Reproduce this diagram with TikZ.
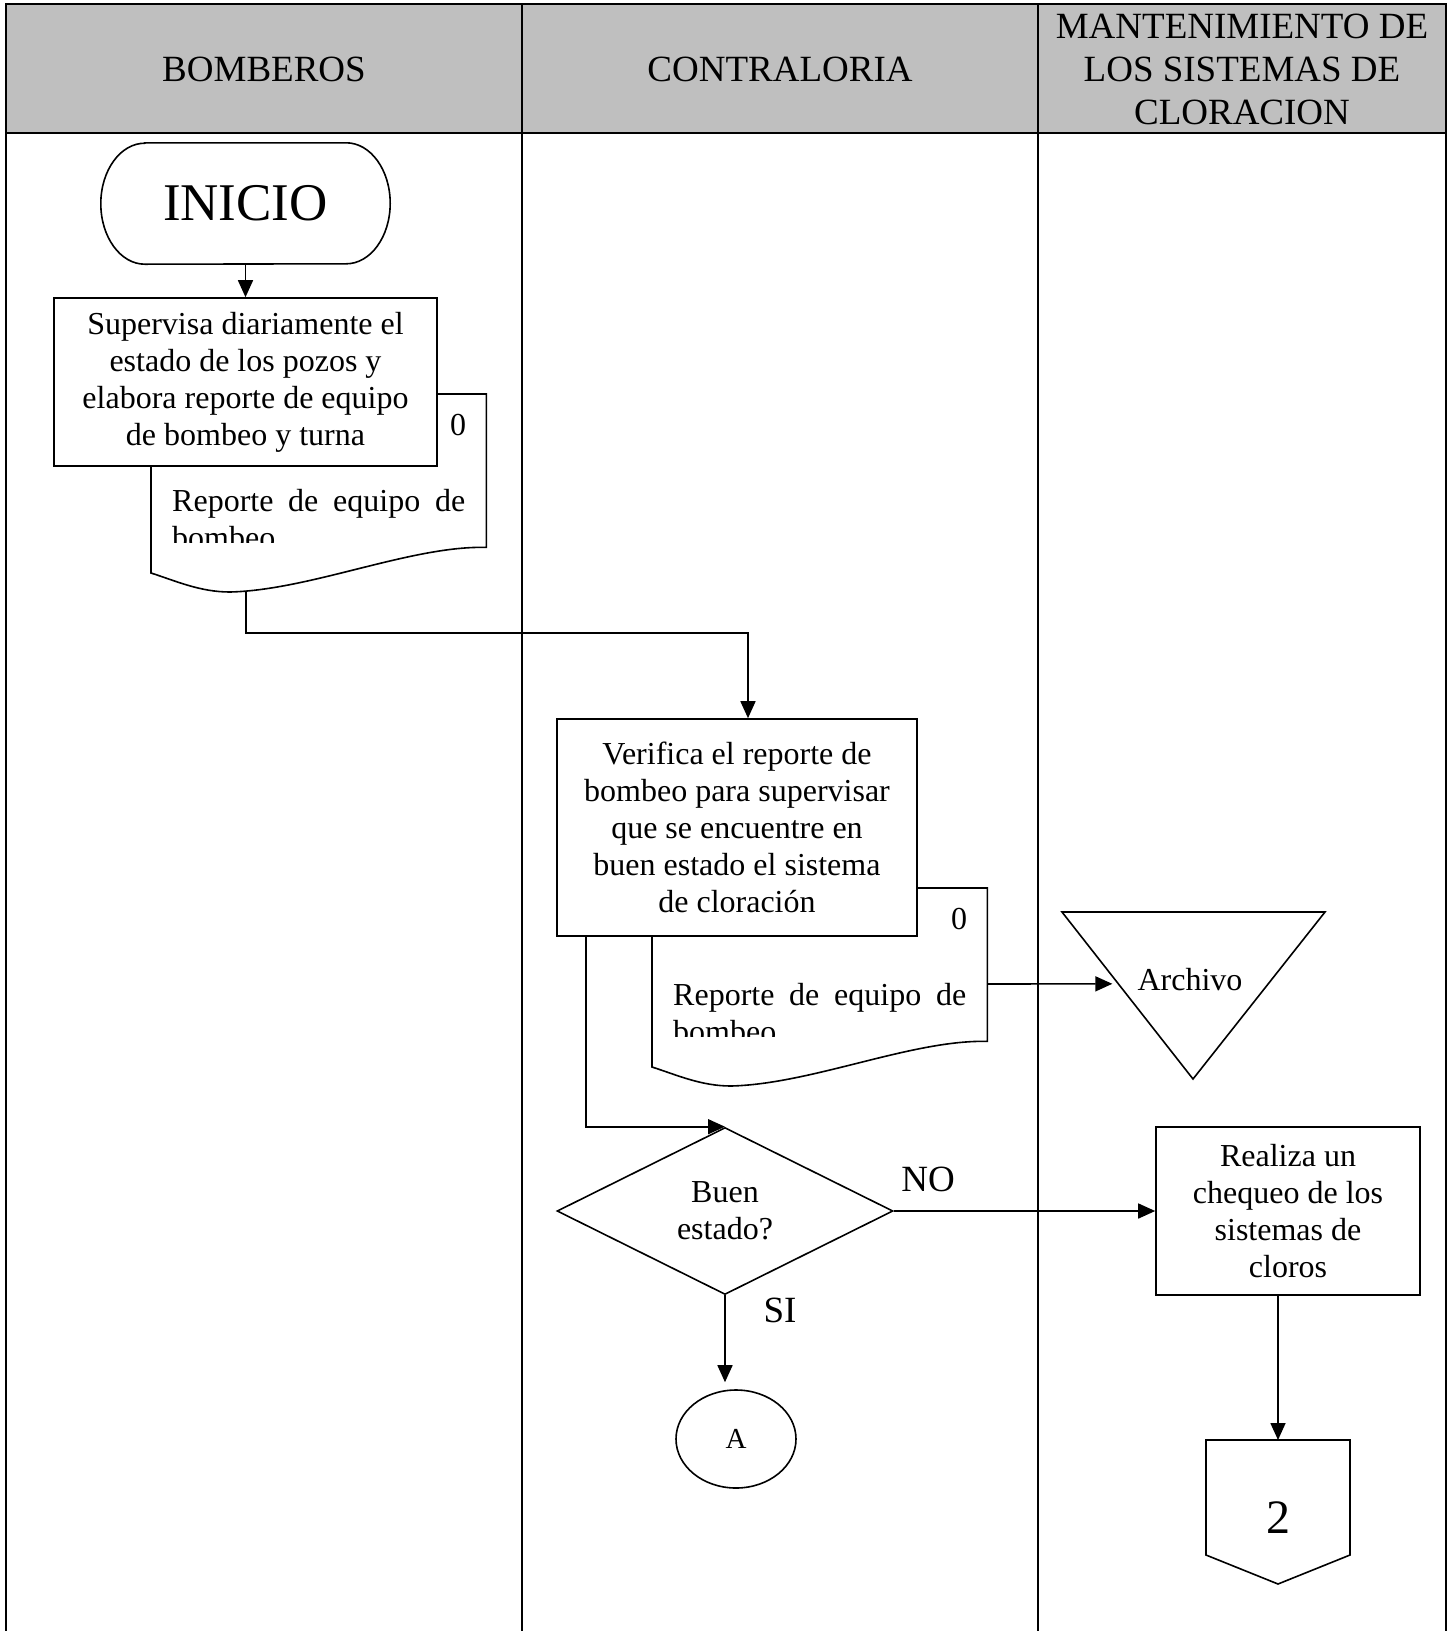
\documentclass[tikz,border=0pt]{standalone}
\usepackage{fontspec}
\setmainfont{Liberation Serif}
\usetikzlibrary{arrows.meta,shapes.geometric,calc}

\tikzset{
  frame/.style={line width=2.6pt,line cap=rect},
  shp/.style={draw,line width=1.6pt},
  flow/.style={line width=1.6pt,-{Triangle[length=17pt,width=15pt]}},
  txt/.style={font=\fontsize{32}{37}\selectfont,align=center,inner sep=0pt},
  big/.style={font=\fontsize{37}{43}\selectfont,align=center,inner sep=0pt},
  proc/.style={shp,txt},
}

\begin{document}
\begin{tikzpicture}[x=1pt,y=-1pt]
  \useasboundingbox (0,0) rectangle (1455,1631);
  \fill[black!25] (6,4) rectangle (1446,133);
  \draw[frame] (6,4) -- (1446,4);
  \draw[frame] (6,133) -- (1446,133);
  \foreach \x in {6,522,1038,1446} {
    \draw[frame] (\x,4) -- (\x,1640);
  }
  \node[big] (hbom) at (264,69) {BOMBEROS};
  \node[big] (hcon) at (780,69) {CONTRALORIA};
  \node[big] (hman) at (1242,69) {MANTENIMIENTO DE\\LOS SISTEMAS DE\\CLORACION};

  \node[minimum width=289pt,minimum height=121pt,inner sep=0pt,
    font=\fontsize{53}{60}\selectfont] (ini) at (245.5,203.5) {INICIO};
  \draw[shp] ([xshift=44pt]ini.north west) -- ([xshift=-44pt]ini.north east)
    arc[start angle=90,end angle=-90,x radius=44pt,y radius=60.5pt]
    -- ([xshift=44pt]ini.south west)
    arc[start angle=270,end angle=90,x radius=44pt,y radius=60.5pt] -- cycle;

  \foreach \x/\y/\n in {151/394/1,652/888/2} {
    \node[minimum width=335pt,minimum height=153pt,inner sep=0pt,
      anchor=north west] (doc\n) at (\x,\y) {};
    \draw[shp] (doc\n.north west) -- (doc\n.north east) -- (doc\n.south east)
      .. controls +(-75,-2) and +(81,-2) .. (\x+79,\y+198)
      .. controls +(-30,0) and +(25,8) .. (\x,\y+179) -- cycle;
    \node[txt] (cero\n) at (\x+307,\y+31) {0};
    \begin{scope}
      \clip (\x,\y) rectangle (\x+335,\y+148);
      \node[txt,align=justify,text width=293pt,anchor=north west]
        (rep\n) at (\x+21,\y+95) {Reporte de equipo de bombeo};
    \end{scope}
    \coordinate (sal\n) at (\x+95,\y+197);
  }

  \node[proc,fill=white,minimum width=383pt,minimum height=168pt] (sup)
    at (245.5,382) {Supervisa diariamente el\\estado de los pozos y\\elabora reporte de equipo\\de bombeo y turna};
  \node[proc,fill=white,minimum width=360pt,minimum height=217pt] (ver)
    at (737,827.5) {Verifica el reporte de\\bombeo para supervisar\\que se encuentre en\\buen estado el sistema\\de cloración};
  \node[proc,minimum width=264pt,minimum height=168pt] (che)
    at (1288,1211) {Realiza un\\chequeo de los\\sistemas de\\cloros};
  \node[shp,txt,diamond,aspect=2,minimum width=336pt,minimum height=167pt] (dec)
    at (725,1211) {Buen\\estado?};
  \node[shp,ellipse,minimum width=120pt,minimum height=98pt,inner sep=0pt,
    font=\fontsize{29}{33}\selectfont] (conA) at (736,1439) {A};

  \coordinate (arA) at (1062,912);
  \coordinate (arB) at (1325,912);
  \coordinate (arC) at (1193,1079);
  \draw[shp] (arA) -- (arB) -- (arC) -- cycle;
  \node[txt] (arch) at (1190,980) {Archivo};

  \coordinate (offN) at (1278,1440);
  \draw[shp] (1206,1440) -- (1350,1440) -- (1350,1555) -- (1278,1584)
    -- (1206,1555) -- cycle;
  \node[inner sep=0pt,font=\fontsize{48}{54}\selectfont] (dos) at (1278,1518) {2};

  \draw[flow] (ini) -- (sup);
  \draw[flow] (sal1) -- ++(0,42) -| ([xshift=11pt]ver.north);
  \draw[flow,shorten >=6pt] ($(doc2.north east)+(0,96)$) -- ($(arA)!0.43!(arC)$);
  \draw[flow] ([xshift=30pt]ver.south west) |- (dec.north);
  \draw[flow] (dec.east) -- (dec.east -| che.west);
  \draw[flow,shorten >=7pt] (dec.south) -- (dec.south |- conA.north);
  \draw[flow] ([xshift=-10pt]che.south) -- (offN);

  \node[big] (no) at (928,1179) {NO};
  \node[big] (si) at (780,1310) {SI};
\end{tikzpicture}
\end{document}
